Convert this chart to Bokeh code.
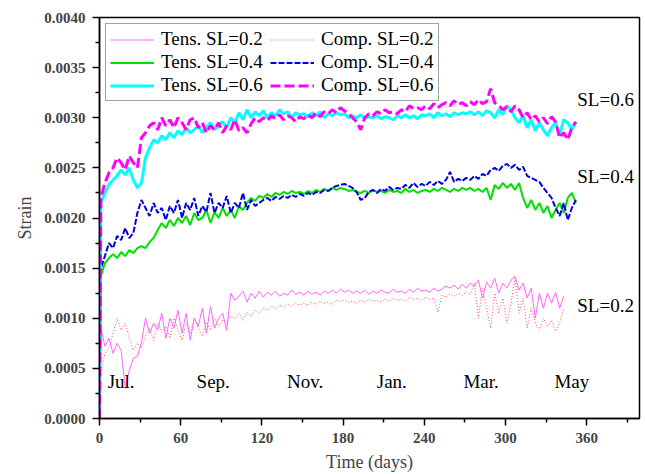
from bokeh.plotting import figure
from bokeh.models import FixedTicker, NumeralTickFormatter, Label, Legend, LegendItem, Range1d
from bokeh.embed import file_html
from bokeh.resources import INLINE

# sampling grid (days)
days = [0] + list(range(1, 353, 3))

# strain values in microstrain (x 1e-6)
tens_06 = [0,
    2150, 2250, 2330, 2380, 2420, 2480, 2430, 2500, 2380, 2300,
    2350, 2600, 2700, 2780, 2750, 2820, 2780, 2850, 2800, 2870,
    2830, 2900, 2850, 2880, 2920, 2850, 2900, 2950, 2880, 2930,
    2960, 2900, 3000, 2950, 3050, 2980, 3080, 3000, 3060, 3020,
    3070, 3000, 3050, 3020, 3080, 3040, 3060, 3000, 3050, 3030,
    3040, 3010, 3050, 3020, 3060, 3000, 3040, 3020, 3050, 3030,
    3040, 3000, 3020, 3000, 3030, 2990, 3010, 3000, 3020, 2990,
    3010, 3000, 2980, 3020, 3000, 3030, 3000, 3020, 2990, 3030,
    3020, 3040, 3000, 3050, 3020, 3040, 3010, 3050, 3030, 3050,
    3040, 3060, 3030, 3060, 3020, 3070, 3050, 3000, 3080, 3030,
    3120, 3080, 3000, 2950, 3020, 2900, 2980, 2870, 2950, 2880,
    2820, 2900, 2950, 2830, 2980, 2950, 2880, 2960]

comp_06 = [0,
    2200, 2350, 2450, 2500, 2600, 2550, 2480, 2620, 2550, 2500,
    2800, 2850, 2920, 2950, 2880, 3000, 2920, 2980, 2900, 3000,
    2950, 2880, 2980, 3000, 2900, 2950, 2850, 2920, 2880, 2950,
    2850, 2920, 2880, 2980, 2870, 2900, 2850, 2940, 3000, 2960,
    3000, 2970, 3020, 2990, 3030, 2980, 3020, 3000, 2960, 3010,
    2990, 3030, 3000, 3050, 3010, 3060, 3040, 3080, 3050, 3100,
    3070, 3040, 3000, 2960, 2880, 3000, 3040, 3020, 3060, 3040,
    3080, 3050, 3060, 3040, 3080, 3060, 3120, 3090, 3100, 3080,
    3120, 3090, 3140, 3100, 3130, 3150, 3120, 3170, 3130, 3150,
    3120, 3160, 3130, 3180, 3140, 3160, 3290, 3150, 3120, 3080,
    3110, 3060, 3120, 3080, 3000, 3050, 2980, 3020, 2960, 3000,
    2940, 3010, 2960, 2800, 2850, 2780, 2900, 2960]

tens_04 = [0,
    1420, 1550, 1600, 1640, 1600, 1660, 1620, 1680, 1650, 1700,
    1720, 1700, 1760, 1800, 1880, 1950, 1900, 1980, 1920, 2000,
    1950, 2020, 1930, 2050, 1980, 2000, 2080, 1950, 2060, 2000,
    2100, 2020, 2080, 2000, 2120, 2080, 2150, 2200, 2170, 2220,
    2200, 2240, 2210, 2250, 2230, 2260, 2240, 2270, 2250, 2260,
    2240, 2270, 2250, 2280, 2260, 2290, 2270, 2300, 2280, 2300,
    2290, 2270, 2280, 2260, 2250, 2270, 2250, 2280, 2260, 2270,
    2250, 2280, 2260, 2270, 2250, 2290, 2260, 2280, 2250, 2270,
    2280, 2260, 2290, 2270, 2300, 2280, 2260, 2290, 2270, 2300,
    2280, 2300, 2270, 2290, 2260, 2300, 2180, 2330, 2290, 2350,
    2300, 2340, 2280, 2350, 2200, 2100, 2180, 2080, 2150, 2050,
    2120, 2000, 2080, 2150, 2050, 2200, 2250, 2150]

comp_04 = [0,
    1500, 1620, 1750, 1700, 1820, 1780, 1900, 1800, 1850, 2050,
    2180, 2100, 2020, 2150, 2050, 2100, 1980, 2120, 2050, 2180,
    2000, 2150, 2080, 2200, 2020, 2120, 2060, 2250, 2050, 2150,
    2100, 2220, 2050, 2150, 2100, 2250, 2080, 2180, 2120, 2150,
    2180, 2200, 2170, 2210, 2190, 2220, 2200, 2230, 2210, 2240,
    2220, 2250, 2230, 2260, 2250, 2280, 2270, 2300, 2320, 2330,
    2340, 2320, 2300, 2260, 2180, 2200, 2260, 2280, 2250, 2290,
    2270, 2310, 2280, 2300, 2290, 2330, 2300, 2350, 2310, 2340,
    2320, 2360, 2330, 2370, 2340, 2380, 2460, 2360, 2390, 2370,
    2400, 2380, 2420, 2390, 2440, 2420, 2480, 2500, 2470, 2520,
    2540, 2500, 2530, 2480, 2510, 2420, 2400, 2380, 2360, 2300,
    2250, 2200, 2100, 2020, 2150, 1980, 2100, 2180]

tens_02 = [0,
    900, 720, 800, 650, 750, 680, 300, 480, 600, 620,
    760, 1000, 850, 950, 880, 1050, 800, 1000, 900, 1080,
    850, 1050, 780, 1000, 920, 1100, 850, 1120, 900, 1000,
    1050, 880, 1250, 1180, 1220, 1270, 1160, 1250, 1200, 1270,
    1210, 1260, 1230, 1270, 1220, 1250, 1230, 1280, 1240, 1260,
    1230, 1270, 1240, 1260, 1230, 1270, 1250, 1280, 1250, 1290,
    1260, 1280, 1250, 1270, 1250, 1280, 1240, 1270, 1250, 1280,
    1260, 1250, 1290, 1260, 1270, 1250, 1290, 1260, 1300, 1270,
    1280, 1260, 1300, 1270, 1290, 1320, 1300, 1330, 1290, 1340,
    1300, 1350, 1320, 1380, 1200, 1360, 1300, 1400, 1250, 1350,
    1300, 1380, 1420, 1280, 1350, 1200, 1300, 1000, 1250, 1100,
    1250, 1150, 1260, 1100, 1220]

comp_02 = [0,
    450, 650, 700, 850, 1000, 880, 950, 800, 680, 750,
    700, 820, 900, 780, 950, 860, 920, 800, 1000, 880,
    780, 950, 850, 1000, 900, 820, 960, 880, 1000, 920,
    980, 950, 1020, 1000, 1050, 980, 1060, 1020, 1080, 1050,
    1100, 1080, 1120, 1100, 1130, 1110, 1140, 1120, 1150, 1130,
    1150, 1130, 1160, 1140, 1170, 1150, 1160, 1140, 1180, 1170,
    1180, 1160, 1170, 1150, 1180, 1160, 1190, 1170, 1180, 1160,
    1190, 1170, 1200, 1180, 1190, 1170, 1210, 1190, 1200, 1180,
    1210, 1190, 1200, 1060, 1230, 1210, 1240, 1220, 1250, 1230,
    1260, 1240, 1350, 1000, 1300, 1100, 900, 1250, 1050, 1200,
    950, 1150, 1400, 1050, 1200, 900, 1100, 950, 880, 1000,
    920, 980, 870, 950, 1100]

x_ticks = [0, 60, 120, 180, 240, 300, 360]
x_minor = [30, 90, 150, 210, 270, 330, 390]
y_ticks = [0.0, 0.0005, 0.0010, 0.0015, 0.0020, 0.0025, 0.0030, 0.0035, 0.0040]
y_minor = [0.00025, 0.00075, 0.00125, 0.00175, 0.00225, 0.00275, 0.00325, 0.00375]

months = ["Jul.", "Sep.", "Nov.", "Jan.", "Mar.", "May"]
month_days = [16, 84, 152, 216, 282, 349]
sl_labels = ["SL=0.6", "SL=0.4", "SL=0.2"]
sl_y = [0.00318, 0.00241, 0.00113]

SERIF = "Liberation Serif"

p = figure(width=641, height=474, output_backend="svg", toolbar_location=None,
           x_range=Range1d(0, 399), y_range=Range1d(0, 0.004),
           min_border_left=99, min_border_right=2, min_border_top=17, min_border_bottom=54)
p.background_fill_color = "white"
p.border_fill_color = "white"
p.xgrid.visible = False
p.ygrid.visible = False
p.outline_line_color = "black"
p.outline_line_width = 1.5
p.outline_line_alpha = 1.0

def to_strain(vals):
    return [v * 1e-6 for v in vals]

r_c02 = p.line(days[:len(comp_02)], to_strain(comp_02), line_color="#FF5050", line_width=1, line_dash="1 2")
r_t02 = p.line(days[:len(tens_02)], to_strain(tens_02), line_color="#FF66FF", line_width=1)
r_t04 = p.line(days, to_strain(tens_04), line_color="#00E000", line_width=2)
r_c04 = p.line(days, to_strain(comp_04), line_color="#0000DD", line_width=2, line_dash="6 2")
r_t06 = p.line(days, to_strain(tens_06), line_color="#00FFFF", line_width=3)
r_c06 = p.line(days, to_strain(comp_06), line_color="#FF00FF", line_width=3, line_dash="10 4")

legend = Legend(items=[
    LegendItem(label="Tens. SL=0.2", renderers=[r_t02]),
    LegendItem(label="Tens. SL=0.4", renderers=[r_t04]),
    LegendItem(label="Tens. SL=0.6", renderers=[r_t06]),
    LegendItem(label="Comp. SL=0.2", renderers=[r_c02]),
    LegendItem(label="Comp. SL=0.4", renderers=[r_c04]),
    LegendItem(label="Comp. SL=0.6", renderers=[r_c06]),
], location="top_left", ncols=2)
legend.label_text_font = SERIF
legend.label_text_font_size = "19px"
legend.label_text_color = "black"
legend.glyph_width = 44
legend.glyph_height = 21
legend.label_height = 21
legend.label_width = 108
legend.label_standoff = 7
legend.spacing = 1
legend.padding = 4
legend.margin = 6
legend.border_line_color = "#444444"
legend.border_line_width = 1.5
legend.background_fill_color = "white"
legend.background_fill_alpha = 1.0
p.add_layout(legend)

for ax in (p.xaxis[0], p.yaxis[0]):
    ax.axis_line_width = 1.5
    ax.major_tick_line_width = 1.5
    ax.minor_tick_line_width = 1.5
    ax.major_tick_in = 0
    ax.major_tick_out = 7
    ax.minor_tick_in = 0
    ax.minor_tick_out = 4
    ax.major_label_text_font = SERIF
    ax.major_label_text_font_style = "bold"
    ax.major_label_text_font_size = "15px"
    ax.axis_label_text_font = SERIF
    ax.axis_label_text_font_style = "normal"
    ax.axis_label_text_font_size = "18px"
    ax.axis_label_standoff = 6
    ax.major_label_standoff = 7

p.xaxis[0].ticker = FixedTicker(ticks=x_ticks, minor_ticks=x_minor)
p.yaxis[0].ticker = FixedTicker(ticks=y_ticks, minor_ticks=y_minor)
p.yaxis[0].formatter = NumeralTickFormatter(format="0.0000")
p.xaxis[0].axis_label = "Time (days)"
p.yaxis[0].axis_label = "Strain"

for m, d in zip(months, month_days):
    p.add_layout(Label(x=d, y=0.00037, text=m, text_align="center", text_baseline="middle",
                       text_font=SERIF, text_font_size="19px", text_color="black"))
for t, yv in zip(sl_labels, sl_y):
    p.add_layout(Label(x=353, y=yv, text=t, text_align="left", text_baseline="middle",
                       text_font=SERIF, text_font_size="19px", text_color="black"))

open("out.html", "w").write(file_html(p, INLINE))
